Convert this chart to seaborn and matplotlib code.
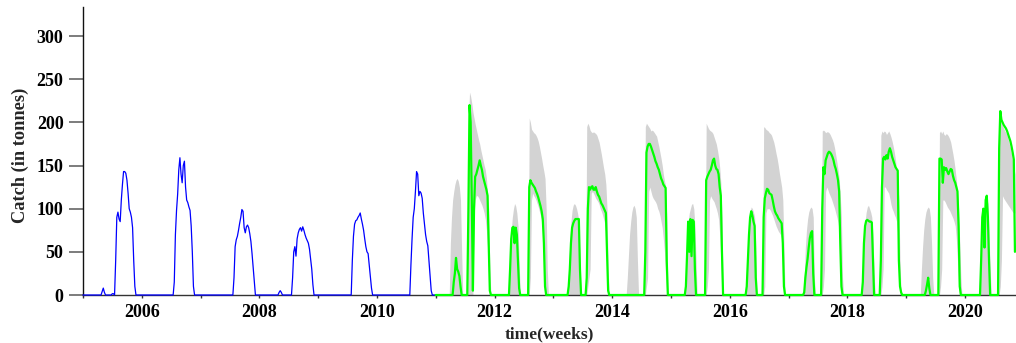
import numpy as np
import pandas as pd
import matplotlib
matplotlib.use("Agg")
import matplotlib.pyplot as plt
import seaborn as sns

# ---------------- data (weekly catch, tonnes; week 0 = first week of 2005) ----------------
BLUE_LAST_WEEK = 313
GREEN_LAST_WEEK = 827

# observed catch (blue): (start week, weekly values)
blue_2005_a = (17, [4, 8, 3])
blue_2005_b = (26, [1.5, 1.5])
blue_2005 = (29, [40, 90, 96, 88, 85, 110, 128, 143, 143, 141, 133, 118, 100, 96, 90, 78, 40, 10])
blue_2006 = (81, [15, 70, 98, 117, 145, 159, 140, 130, 150, 155, 125, 110, 107, 102, 98, 80, 50, 10])
blue_2007 = (134, [20, 56, 64, 68, 75, 83, 90, 99, 97, 78, 72, 79, 81, 78, 71, 62, 48, 32, 15])
blue_2008_a = (174, [3, 5, 3])
blue_2008 = (186, [20, 50, 56, 45, 65, 72, 76, 78, 74, 79, 75, 70, 66, 63, 60, 53, 42, 30, 12])
blue_2009 = (239, [40, 68, 82, 86, 87, 90, 92, 95, 88, 82, 75, 65, 56, 50, 48, 35, 22, 8])
blue_2010 = (291, [35, 65, 90, 100, 120, 143, 140, 115, 120, 118, 112, 95, 82, 70, 62, 57, 40, 22, 5])

# predicted catch (green)
green_2011_a = (329, [15, 25, 43, 30, 27, 22, 10])
green_2011 = (342, [100, 220, 200, 110, 5, 100, 137, 140, 145, 150, 156, 150, 145, 137, 132, 127, 122, 115, 60, 5])
green_2012_a = (379, [30, 65, 78, 79, 60, 78, 70, 40, 8])
green_2012 = (396, [125, 133, 130, 128, 126, 124, 120, 117, 113, 108, 103, 97, 88, 60, 10])
green_2013_a = (431, [10, 30, 60, 78, 83, 86, 88, 88, 88, 88, 30])
green_2013 = (447, [20, 100, 125, 122, 125, 126, 122, 122, 125, 120, 116, 114, 110, 106, 104, 101, 98, 95, 50, 5])
green_2014 = (499, [50, 165, 172, 175, 175, 172, 168, 164, 160, 155, 152, 148, 145, 140, 135, 132, 128, 126, 124, 40])
green_2015_a = (535, [10, 45, 85, 50, 88, 45, 87, 85, 30])
green_2015 = (553, [133, 137, 140, 143, 145, 150, 156, 158, 150, 146, 145, 140, 125, 115, 50])
green_2016_a = (589, [10, 40, 70, 90, 97, 92, 85, 80, 20])
green_2016 = (604, [90, 112, 118, 123, 122, 118, 117, 116, 110, 103, 97, 94, 92, 89, 87, 85, 83, 60, 10])
green_2017_a = (640, [3, 20, 32, 42, 55, 66, 72, 74, 25])
green_2017 = (656, [100, 148, 140, 156, 160, 164, 166, 165, 163, 160, 156, 150, 146, 140, 133, 120, 60, 10])
green_2018_a = (692, [15, 60, 80, 86, 87, 86, 85, 85, 84, 40])
green_2018 = (708, [40, 125, 158, 160, 157, 162, 158, 166, 170, 166, 160, 156, 152, 148, 146, 144, 40, 10, 3])
green_2019_a = (748, [5, 12, 20, 8])
green_2019 = (760, [158, 158, 157, 130, 148, 145, 147, 143, 140, 143, 146, 145, 138, 133, 130, 125, 120, 80, 10])
green_2020_a = (797, [40, 90, 100, 55, 110, 115, 90, 40])
green_2020 = (813, [170, 213, 203, 200, 197, 195, 193, 190, 186, 182, 178, 172, 165, 157, 50])

# uncertainty band (grey): upper bound
upper_2011_a = (326, [60, 90, 110, 120, 128, 133, 135, 132, 125, 110, 50])
upper_2011 = (342, [200, 235, 230, 222, 212, 205, 198, 192, 186, 180, 175, 168, 162, 156, 150, 145, 135, 118, 100, 30])
upper_2012_a = (379, [40, 75, 90, 100, 106, 103, 95, 80, 40])
upper_2012 = (396, [205, 200, 192, 190, 188, 187, 185, 182, 178, 172, 165, 158, 150, 143, 135, 100, 30])
upper_2013_a = (431, [30, 60, 85, 98, 104, 106, 104, 100, 94, 85, 40])
upper_2013 = (447, [195, 199, 196, 191, 189, 188, 189, 188, 187, 185, 181, 177, 170, 163, 155, 147, 140, 128, 100, 30])
upper_2014_a = (483, [20, 45, 70, 85, 96, 102, 104, 100, 90, 40])
upper_2014 = (499, [195, 199, 197, 195, 193, 190, 191, 190, 188, 186, 184, 178, 172, 165, 158, 150, 140, 132, 127, 90])
upper_2015_a = (535, [30, 60, 85, 95, 100, 105, 106, 100, 80, 40])
upper_2015 = (553, [199, 196, 193, 191, 190, 189, 187, 183, 179, 175, 168, 160, 148, 130, 90])
upper_2016_a = (589, [40, 65, 85, 97, 102, 100, 96, 90, 60])
upper_2016 = (604, [195, 194, 192, 191, 190, 188, 187, 185, 181, 177, 171, 164, 158, 150, 141, 133, 125, 110, 60])
upper_2017_a = (640, [20, 55, 75, 88, 96, 100, 102, 100, 90, 20])
upper_2017 = (656, [190, 191, 190, 188, 189, 189, 188, 186, 183, 180, 176, 170, 162, 154, 145, 135, 115, 90, 20])
upper_2018_a = (692, [30, 65, 85, 96, 102, 104, 100, 96, 90, 70, 25])
upper_2018 = (708, [185, 190, 188, 190, 189, 186, 188, 190, 187, 183, 178, 172, 165, 156, 145, 130, 110, 40])
upper_2019_a = (744, [30, 55, 75, 88, 96, 100, 102, 100, 90, 60, 20])
upper_2019 = (760, [188, 190, 187, 190, 186, 185, 187, 186, 184, 181, 177, 170, 163, 155, 145, 133, 120, 100, 60, 20])
upper_2020_a = (796, [30, 65, 85, 98, 104, 108, 112, 106, 70, 30])
upper_2020 = (813, [175, 205, 200, 196, 193, 190, 188, 185, 180, 175, 170, 163, 155, 148, 140])

# uncertainty band (grey): lower bound
lower_2011 = (347, [90, 110, 115, 115, 113, 110, 107, 104, 100, 95, 88, 75, 55, 20])
lower_2012 = (397, [20, 110, 118, 115, 113, 110, 106, 102, 97, 92, 85, 70, 40, 5])
lower_2013 = (448, [10, 20, 30, 118, 120, 118, 115, 112, 110, 108, 105, 100, 97, 93, 88, 83, 70, 30])
lower_2014 = (500, [10, 20, 120, 125, 120, 115, 112, 110, 108, 105, 100, 97, 92, 85, 78, 65, 50, 20])
lower_2015 = (554, [10, 30, 110, 115, 112, 110, 108, 104, 100, 95, 88, 70, 40])
lower_2016 = (605, [10, 95, 100, 100, 100, 98, 95, 92, 88, 84, 80, 77, 74, 72, 70, 65, 35])
lower_2017 = (657, [10, 30, 120, 125, 122, 118, 115, 112, 108, 104, 100, 95, 90, 84, 75, 50, 10])
lower_2018 = (709, [10, 30, 125, 125, 122, 120, 118, 112, 105, 100, 97, 93, 90, 85, 70, 30])
lower_2019 = (761, [10, 30, 110, 110, 108, 105, 102, 100, 98, 95, 92, 89, 85, 80, 65, 40, 10])
lower_2020 = (814, [10, 40, 115, 112, 110, 108, 106, 104, 102, 100, 98, 96, 95, 95])

year_ticks = list(range(2005, 2021))
year_labels = [str(y) if y % 2 == 0 else "" for y in year_ticks]
y_ticks = [0, 50, 100, 150, 200, 250, 300]

# ---------------- build weekly series ----------------
def weekly(first, last, parts):
    arr = np.zeros(last - first + 1)
    for start, vals in parts:
        arr[start - first:start - first + len(vals)] = vals
    return arr

wb = np.arange(0, BLUE_LAST_WEEK + 1)
wg = np.arange(BLUE_LAST_WEEK, GREEN_LAST_WEEK + 1)
blue = weekly(0, BLUE_LAST_WEEK, [blue_2005_a, blue_2005_b, blue_2005, blue_2006, blue_2007,
                                   blue_2008_a, blue_2008, blue_2009, blue_2010])
green = weekly(BLUE_LAST_WEEK, GREEN_LAST_WEEK, [green_2011_a, green_2011, green_2012_a, green_2012,
                                                 green_2013_a, green_2013, green_2014, green_2015_a,
                                                 green_2015, green_2016_a, green_2016, green_2017_a,
                                                 green_2017, green_2018_a, green_2018, green_2019_a,
                                                 green_2019, green_2020_a, green_2020])
upper = weekly(BLUE_LAST_WEEK, GREEN_LAST_WEEK, [upper_2011_a, upper_2011, upper_2012_a, upper_2012,
                                                 upper_2013_a, upper_2013, upper_2014_a, upper_2014,
                                                 upper_2015_a, upper_2015, upper_2016_a, upper_2016,
                                                 upper_2017_a, upper_2017, upper_2018_a, upper_2018,
                                                 upper_2019_a, upper_2019, upper_2020_a, upper_2020])
lower = weekly(BLUE_LAST_WEEK, GREEN_LAST_WEEK, [lower_2011, lower_2012, lower_2013, lower_2014,
                                                 lower_2015, lower_2016, lower_2017, lower_2018,
                                                 lower_2019, lower_2020])

df_blue = pd.DataFrame({"time": 2005 + wb * 7 / 365.25, "catch": blue})
df_green = pd.DataFrame({"time": 2005 + wg * 7 / 365.25, "catch": green,
                         "low": lower, "high": upper})

# ---------------- plot ----------------
sns.set_style("ticks")
plt.rcParams["font.family"] = ["Liberation Serif", "DejaVu Serif"]
plt.rcParams["font.weight"] = "bold"

fig = plt.figure(figsize=(10.16, 3.43), dpi=100)
ax = fig.add_axes([83 / 1016, 48 / 343, 933 / 1016, 288 / 343])

ax.fill_between(df_green["time"], df_green["low"], df_green["high"],
                color="#d3d3d3", linewidth=0, zorder=1)
sns.lineplot(data=df_blue, x="time", y="catch", ax=ax, color="#0000ff",
             linewidth=0.9, estimator=None, sort=False, zorder=3, clip_on=False)
sns.lineplot(data=df_green, x="time", y="catch", ax=ax, color="#00ff00",
             linewidth=1.6, estimator=None, sort=False, zorder=3, clip_on=False)

ax.set_xlim(2005.0, 2005 + 933 / 58.8)
ax.set_ylim(0, 333.6)
ax.set_xticks(year_ticks)
ax.set_xticklabels(year_labels)
ax.set_yticks(y_ticks)

for s in ["top", "right"]:
    ax.spines[s].set_visible(False)
ax.spines["left"].set_color("#111111")
ax.spines["left"].set_linewidth(1.0)
ax.spines["bottom"].set_color("#333333")
ax.spines["bottom"].set_linewidth(1.0)

ax.tick_params(axis="y", length=10, width=1.2, color="#666666", pad=4,
               labelsize=13, labelcolor="black")
ax.tick_params(axis="x", length=2.5, width=1.0, color="#333333", pad=4,
               labelsize=13, labelcolor="black")
for lab in ax.get_xticklabels() + ax.get_yticklabels():
    lab.set_fontweight("bold")

ax.set_xlabel("time(weeks)", fontsize=12.5, fontweight="bold")
ax.set_ylabel("Catch (in tonnes)", fontsize=13.2, fontweight="bold")
ax.xaxis.set_label_coords(0.5, -0.108)
ax.yaxis.set_label_coords(-0.058, 0.486)
ax.grid(False)

fig.savefig("out.png", dpi=100)
